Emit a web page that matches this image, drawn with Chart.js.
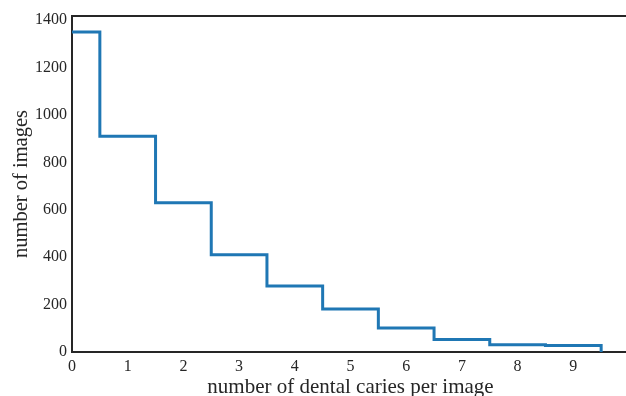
<!DOCTYPE html>
<html>
<head>
<meta charset="utf-8">
<script src="https://cdn.jsdelivr.net/npm/chart.js@4"></script>
<style>
  html, body { margin: 0; padding: 0; background: #fff; overflow: hidden; }
  #wrap { width: 632px; height: 396px; }
</style>
</head>
<body>
<div id="wrap"><canvas id="chart" width="632" height="396"></canvas></div>
<script>
// caries per image (bins centred on 0..9) and how many images fall in each
const categories = [0, 1, 2, 3, 4, 5, 6, 7, 8, 9];
const imageCounts = [1350, 910, 630, 410, 278, 181, 101, 53, 31, 27];
const xTickValues = [0, 1, 2, 3, 4, 5, 6, 7, 8, 9];
const yTickValues = [0, 200, 400, 600, 800, 1000, 1200, 1400];

const serif = "'Liberation Serif', 'DejaVu Serif', serif";
const spineColor = '#262626';

// step outline of the histogram: left edge of each bin, then drop to zero at the end
const points = categories.map((c, i) => ({ x: c - 0.5, y: imageCounts[i] }));
const last = categories.length - 1;
points.push({ x: categories[last] + 0.5, y: imageCounts[last] });
points.push({ x: categories[last] + 0.5, y: 0 });

const topSpine = {
    id: 'topSpine',
    afterDraw(chart) {
        const { ctx, chartArea } = chart;
        ctx.save();
        ctx.strokeStyle = spineColor;
        ctx.lineWidth = 2;
        ctx.beginPath();
        ctx.moveTo(chartArea.left - 1, chartArea.top);
        ctx.lineTo(chartArea.right + 1, chartArea.top);
        ctx.moveTo(chartArea.right, chartArea.top);
        ctx.lineTo(chartArea.right, chartArea.bottom);
        ctx.stroke();
        ctx.restore();
    }
};

const ctx = document.querySelector('#chart').getContext('2d');
const chart = new Chart(ctx, {
    type: 'line',
    data: {
        datasets: [{
            data: points,
            stepped: 'before',
            borderColor: '#1f77b4',
            borderWidth: 3,
            pointRadius: 0,
            fill: false
        }]
    },
    options: {
        responsive: false,
        animation: false,
        layout: { padding: { top: 16, right: 3, left: 0, bottom: 0 } },
        plugins: {
            legend: { display: false },
            tooltip: { enabled: false }
        },
        scales: {
            x: {
                type: 'linear',
                min: 0,
                max: 10,
                grid: { display: false, drawTicks: false },
                border: { color: spineColor, width: 2 },
                afterBuildTicks: (axis) => { axis.ticks = xTickValues.map(v => ({ value: v })); },
                afterFit: (scale) => { scale.height = 44; },
                ticks: {
                    padding: 5,
                    color: '#262626',
                    font: { family: serif, size: 16 },
                    callback: (v) => String(v)
                },
                title: {
                    display: true,
                    text: 'number of dental caries per image',
                    color: '#262626',
                    padding: { top: 0, bottom: -4 },
                    font: { family: serif, size: 21 }
                }
            },
            y: {
                min: 0,
                max: 1417.5,
                grid: { display: false, drawTicks: false },
                border: { color: spineColor, width: 2 },
                afterBuildTicks: (axis) => { axis.ticks = yTickValues.map(v => ({ value: v })); },
                afterFit: (scale) => { scale.width = 72; },
                ticks: {
                    padding: 5,
                    color: '#262626',
                    font: { family: serif, size: 16 },
                    callback: (v) => String(v)
                },
                title: {
                    display: true,
                    text: 'number of images',
                    color: '#262626',
                    padding: { top: 9, bottom: 0 },
                    font: { family: serif, size: 20.5 }
                }
            }
        }
    },
    plugins: [topSpine]
});
</script>
</body>
</html>
